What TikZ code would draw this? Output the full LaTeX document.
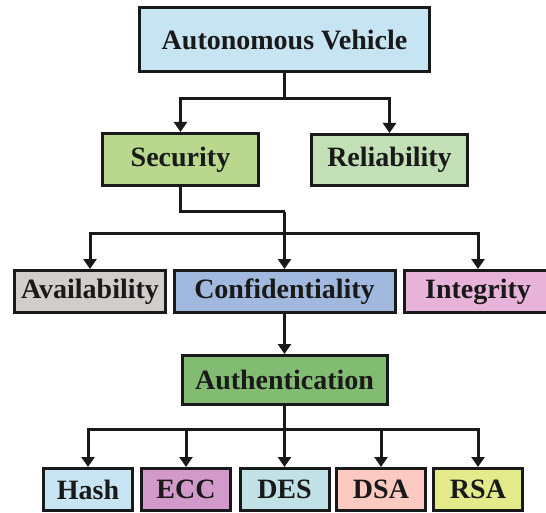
\documentclass[tikz,border=0pt]{standalone}
\usepackage{fontspec}
\setmainfont{Liberation Serif}
\usetikzlibrary{arrows.meta}

\definecolor{avblue}{HTML}{C6E4F1}
\definecolor{secgreen}{HTML}{B9D88E}
\definecolor{relgreen}{HTML}{C2DFB6}
\definecolor{availgray}{HTML}{D1CDCB}
\definecolor{confblue}{HTML}{A1B9DF}
\definecolor{integpink}{HTML}{E8B3D9}
\definecolor{authgreen}{HTML}{82BC73}
\definecolor{hashblue}{HTML}{C6E4F1}
\definecolor{eccpurple}{HTML}{D29ACA}
\definecolor{descyan}{HTML}{C0E2E7}
\definecolor{dsasalmon}{HTML}{FCCAC1}
\definecolor{rsayellow}{HTML}{E2EA8A}

\begin{document}
\begin{tikzpicture}[
    x=1pt, y=-1pt,
    box/.style={draw=black!90, line width=3pt, inner sep=0pt,
        font=\bfseries\fontsize{28}{32}\selectfont, text=black!90},
    small box/.style={box, minimum width=89pt, minimum height=42pt},
    link/.style={draw=black!90, line width=3pt, -{Triangle[width=13pt,length=10pt]}},
    plain link/.style={draw=black!90, line width=3pt}
]
    \useasboundingbox (0,0) rectangle (546,513);

    % Top levels
    \node[box, fill=avblue, minimum width=289.5pt, minimum height=64pt] (av) at (284.5,39.5) {Autonomous Vehicle};
    \node[box, fill=secgreen, minimum width=156pt, minimum height=52pt] (sec) at (180.5,159.5) {Security};
    \node[box, fill=relgreen, minimum width=156pt, minimum height=51pt] (rel) at (389.5,160) {Reliability};

    % Security properties
    \node[box, fill=availgray, minimum width=151pt, minimum height=42pt] (avail) at (90,291.5) {Availability};
    \node[box, fill=confblue, minimum width=221pt, minimum height=42pt] (conf) at (284.5,291.5) {Confidentiality};
    \node[box, fill=integpink, minimum width=147pt, minimum height=42pt] (integ) at (478,291.5) {Integrity};

    \node[box, fill=authgreen, minimum width=205pt, minimum height=49pt] (auth) at (284.5,380) {Authentication};

    % Algorithms
    \node[small box, fill=hashblue] (hash) at (88,489.5) {Hash};
    \node[small box, fill=eccpurple] (ecc) at (186,489.5) {ECC};
    \node[small box, fill=descyan] (des) at (284.5,489.5) {DES};
    \node[small box, fill=dsasalmon] (dsa) at (381,489.5) {DSA};
    \node[small box, fill=rsayellow] (rsa) at (478,489.5) {RSA};

    % Forks
    \coordinate (avfork) at (284.5,99);
    \coordinate (secbend) at (284.5,212);
    \coordinate (propfork) at (284.5,233);
    \coordinate (algfork) at (284.5,429);

    % Connectors
    \draw[plain link] (av.south) -- (avfork);
    \draw[link] (avfork) -| (sec.north);
    \draw[link] (avfork) -| (rel.north);

    \draw[plain link] (sec.south) |- (secbend);
    \draw[link] (secbend) -- (conf.north);
    \draw[link] (propfork) -| (avail.north);
    \draw[link] (propfork) -| (integ.north);

    \draw[link] (conf.south) -- (auth.north);
    \draw[plain link] (auth.south) -- (algfork);
    \foreach \alg in {hash, ecc, des, dsa, rsa}
        \draw[link] (algfork) -| (\alg.north);

\end{tikzpicture}
\end{document}
